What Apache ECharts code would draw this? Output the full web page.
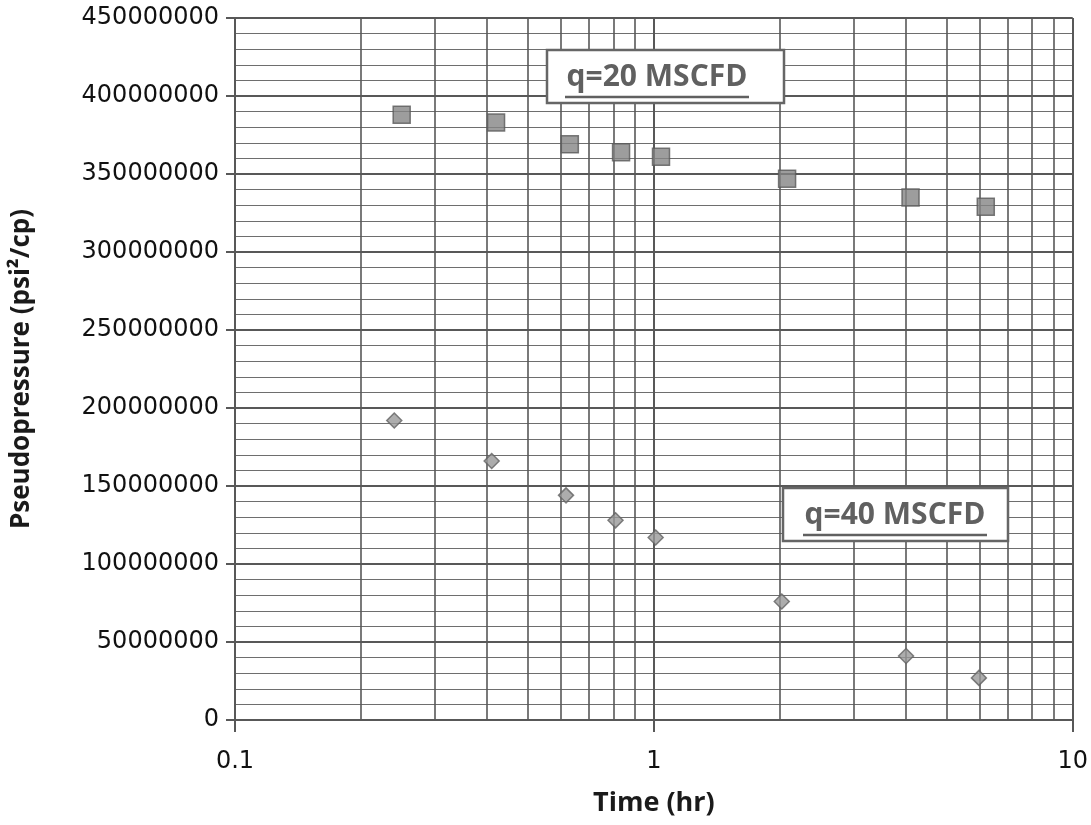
<!DOCTYPE html>
<html>
<head>
<meta charset="utf-8">
<script src="https://cdn.jsdelivr.net/npm/echarts@6/dist/echarts.min.js"></script>
<style>
html,body{margin:0;padding:0;background:#fff;}
#chart{width:1091px;height:825px;}
</style>
</head>
<body>
<div id="chart"></div>
<script>
// Data
const timeQ20 = [0.25, 0.42, 0.63, 0.835, 1.04, 2.08, 4.1, 6.2];
const pseudoQ20 = [388e6, 383e6, 369e6, 364e6, 361e6, 347e6, 335e6, 329e6];
const timeQ40 = [0.24, 0.41, 0.617, 0.81, 1.01, 2.02, 4.0, 5.97];
const pseudoQ40 = [192e6, 166e6, 144e6, 128e6, 117e6, 76e6, 41e6, 27e6];
const xMinorGrid = [0.2, 0.3, 0.4, 0.5, 0.6, 0.7, 0.8, 0.9, 2, 3, 4, 5, 6, 7, 8, 9];
const labelQ20 = 'q=20 MSCFD';
const labelQ40 = 'q=40 MSCFD';

const chart = echarts.init(document.getElementById('chart'));
const gridColor = '#585858';
const labelFont = 'DejaVu Sans';

function pairs(xs, ys){ return xs.map((x,i)=>[x, ys[i]]); }

const option = {
  animation: false,
  backgroundColor: '#ffffff',
  grid: { left: 235, right: 16, top: 18, bottom: 105 },
  xAxis: {
    type: 'log', logBase: 10, min: 0.1, max: 10,
    name: 'Time (hr)', nameLocation: 'middle', nameGap: 70,
    nameTextStyle: { fontFamily: 'Open Sans', fontWeight: 'bold', fontSize: 27, color: '#1a1a1a' },
    axisLine: { show: true, lineStyle: { color: gridColor, width: 2 } },
    axisTick: { show: true, inside: false, length: 12, lineStyle: { color: gridColor, width: 2 } },
    axisLabel: { fontFamily: labelFont, fontSize: 24, color: '#111', margin: 30,
      formatter: v => (v < 1 ? String(v) : String(Math.round(v))) },
    splitLine: { show: true, lineStyle: { color: gridColor, width: 2 } },
    minorTick: { show: false }
  },
  yAxis: {
    type: 'value', min: 0, max: 450000000, interval: 50000000,
    name: 'Pseudopressure (psi²/cp)', nameLocation: 'middle', nameGap: 200, nameRotate: 90,
    nameTextStyle: { fontFamily: 'Open Sans', fontWeight: 'bold', fontSize: 26, color: '#1a1a1a' },
    axisLine: { show: true, lineStyle: { color: gridColor, width: 2 } },
    axisTick: { show: true, inside: false, length: 9, lineStyle: { color: gridColor, width: 2 } },
    axisLabel: { fontFamily: labelFont, fontSize: 24, color: '#111', margin: 16,
      formatter: v => String(v) },
    splitLine: { show: true, lineStyle: { color: gridColor, width: 2 } },
    minorTick: { show: false, splitNumber: 5 },
    minorSplitLine: { show: true, lineStyle: { color: '#6e6e6e', width: 1 } }
  },
  series: [
    {
      name: 'grid-minor-x', type: 'scatter', data: [], silent: true,
      markLine: {
        silent: true, symbol: ['none','none'], animation: false,
        label: { show: false },
        lineStyle: { color: gridColor, width: 1.6, type: 'solid' },
        data: xMinorGrid.map(v => ({ xAxis: v }))
      }
    },
    {
      name: labelQ20, type: 'scatter', symbol: 'rect', symbolSize: 17,
      itemStyle: { color: '#858585', borderColor: '#5a5a5a', borderWidth: 1.5 },
      data: pairs(timeQ20, pseudoQ20), z: 5
    },
    {
      name: labelQ40, type: 'scatter', symbol: 'diamond', symbolSize: 15,
      itemStyle: { color: '#999', borderColor: '#636363', borderWidth: 1.5 },
      data: pairs(timeQ40, pseudoQ40), z: 5
    }
  ],
  graphic: [
    { type: 'rect', shape: { x: 547, y: 50, width: 237, height: 53 }, z: 10,
      style: { fill: '#fff', stroke: '#666', lineWidth: 2.5 } },
    { type: 'text', x: 657, y: 77, z: 11,
      style: { text: labelQ20, fill: '#606060', font: 'bold 30px "Open Sans"', textAlign: 'center', textVerticalAlign: 'middle' } },
    { type: 'line', shape: { x1: 565, y1: 97, x2: 749, y2: 97 }, z: 11,
      style: { stroke: '#606060', lineWidth: 2.5 } },
    { type: 'rect', shape: { x: 783, y: 488, width: 225, height: 53 }, z: 10,
      style: { fill: '#fff', stroke: '#666', lineWidth: 2.5 } },
    { type: 'text', x: 895, y: 515, z: 11,
      style: { text: labelQ40, fill: '#606060', font: 'bold 30px "Open Sans"', textAlign: 'center', textVerticalAlign: 'middle' } },
    { type: 'line', shape: { x1: 803, y1: 535, x2: 987, y2: 535 }, z: 11,
      style: { stroke: '#606060', lineWidth: 2.5 } }
  ]
};
chart.setOption(option);
</script>
</body>
</html>
